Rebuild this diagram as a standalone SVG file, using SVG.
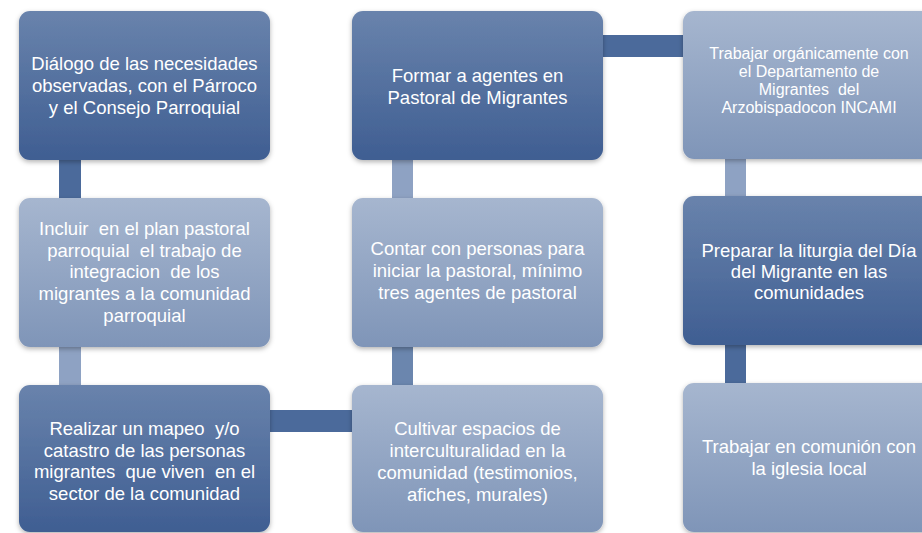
<svg xmlns="http://www.w3.org/2000/svg" width="922" height="533" viewBox="0 0 922 533" xml:space="preserve">
<defs>
<linearGradient id="gDark" x1="0" y1="0" x2="0" y2="1">
<stop offset="0" stop-color="#6983ac"/>
<stop offset="1" stop-color="#3f5e92"/>
</linearGradient>
<linearGradient id="gLight" x1="0" y1="0" x2="0" y2="1">
<stop offset="0" stop-color="#a6b6cf"/>
<stop offset="1" stop-color="#7f95b8"/>
</linearGradient>
<filter id="sh" x="-10%" y="-10%" width="120%" height="125%">
<feDropShadow dx="0" dy="2" stdDeviation="2.5" flood-color="#000" flood-opacity="0.3"/>
</filter>
</defs>
<style>
.dark{fill:url(#gDark);filter:url(#sh)}
.light{fill:url(#gLight);filter:url(#sh)}
.cd{fill:#4b6a9b}
.cl{fill:#8ea2c3}
.cm{fill:#6b86ae}
text{font-family:"Liberation Sans",Arial,sans-serif;font-size:18.5px;fill:#ffffff;text-anchor:middle;white-space:pre}
.sm{font-size:16px}
</style>
<rect width="922" height="533" fill="#ffffff"/>
<g id="connectors">
<rect class="cd" x="59" y="150" width="22" height="58"/>
<rect class="cl" x="59" y="337" width="22" height="58"/>
<rect class="cd" x="259" y="410" width="103" height="22"/>
<rect class="cm" x="392" y="337" width="21" height="58"/>
<rect class="cl" x="392" y="150" width="21" height="58"/>
<rect class="cd" x="593" y="35" width="100" height="22"/>
<rect class="cl" x="725" y="150" width="21" height="55"/>
<rect class="cd" x="725" y="335" width="21" height="58"/>
</g>
<g id="n1">
<rect class="dark" x="19" y="11" width="251" height="149" rx="11"/>
<text x="144.5" y="70">Diálogo de las necesidades</text>
<text x="144.5" y="92">observadas, con el Párroco</text>
<text x="144.5" y="114">y el Consejo Parroquial</text>
</g>
<g id="n2">
<rect class="light" x="19" y="198" width="251" height="149" rx="11"/>
<text x="144.5" y="235">Incluir  en el plan pastoral</text>
<text x="144.5" y="257">parroquial  el trabajo de</text>
<text x="144.5" y="278">integracion  de los</text>
<text x="144.5" y="300">migrantes a la comunidad</text>
<text x="144.5" y="322">parroquial</text>
</g>
<g id="n3">
<rect class="dark" x="19" y="385" width="251" height="147" rx="11"/>
<text x="144.5" y="435">Realizar un mapeo  y/o</text>
<text x="144.5" y="457">catastro de las personas</text>
<text x="144.5" y="478">migrantes  que viven  en el</text>
<text x="144.5" y="500">sector de la comunidad</text>
</g>
<g id="n4">
<rect class="light" x="352" y="385" width="251" height="147" rx="11"/>
<text x="477.5" y="435">Cultivar espacios de</text>
<text x="477.5" y="457">interculturalidad en la</text>
<text x="477.5" y="479">comunidad (testimonios,</text>
<text x="477.5" y="501">afiches, murales)</text>
</g>
<g id="n5">
<rect class="light" x="352" y="198" width="251" height="149" rx="11"/>
<text x="477.5" y="255">Contar con personas para</text>
<text x="477.5" y="277">iniciar la pastoral, mínimo</text>
<text x="477.5" y="299">tres agentes de pastoral</text>
</g>
<g id="n6">
<rect class="dark" x="352" y="11" width="251" height="149" rx="11"/>
<text x="477.5" y="82">Formar a agentes en</text>
<text x="477.5" y="104">Pastoral de Migrantes</text>
</g>
<g id="n7">
<rect class="light" x="683" y="11" width="251" height="148" rx="11"/>
<text class="sm" x="809" y="59">Trabajar orgánicamente con</text>
<text class="sm" x="809" y="77">el Departamento de</text>
<text class="sm" x="809" y="95">Migrantes  del</text>
<text class="sm" x="809" y="113">Arzobispadocon INCAMI</text>
</g>
<g id="n8">
<rect class="dark" x="683" y="196" width="251" height="149" rx="11"/>
<text x="809" y="257">Preparar la liturgia del Día</text>
<text x="809" y="278">del Migrante en las</text>
<text x="809" y="299">comunidades</text>
</g>
<g id="n9">
<rect class="light" x="683" y="383" width="251" height="149" rx="11"/>
<text x="809" y="453">Trabajar en comunión con</text>
<text x="809" y="475">la iglesia local</text>
</g>
</svg>
